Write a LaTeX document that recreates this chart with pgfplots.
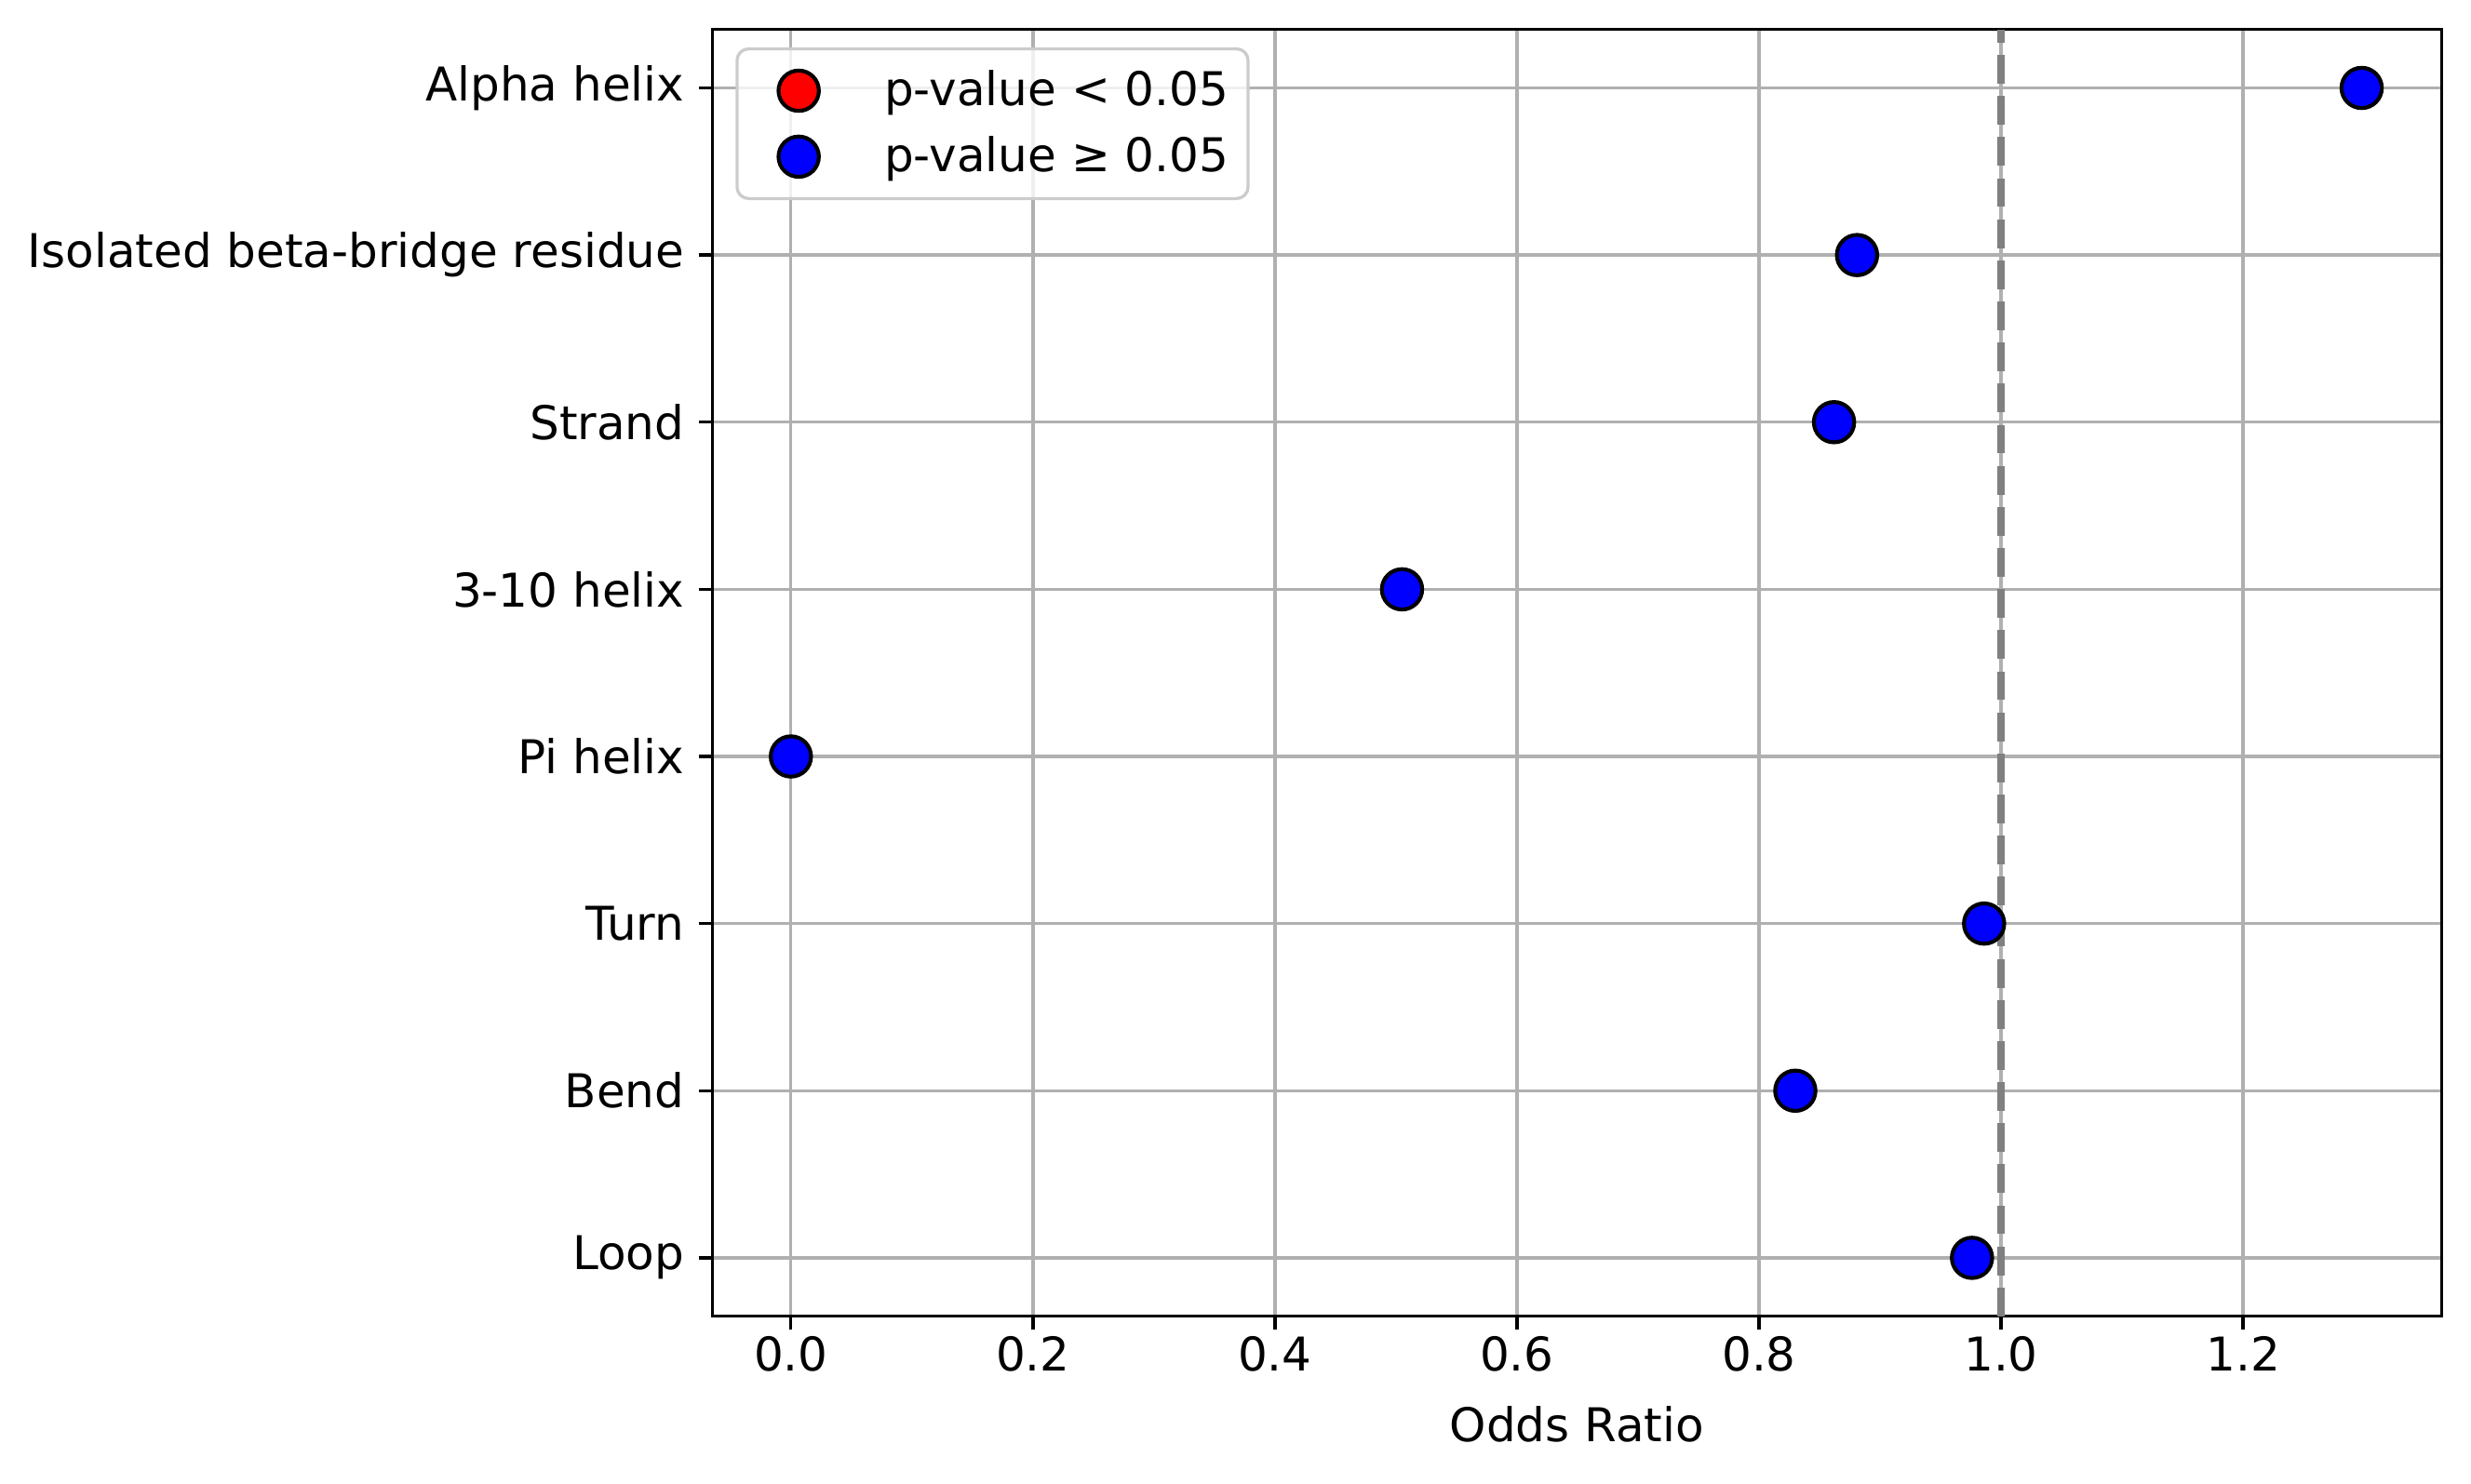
\documentclass[border=0pt]{standalone}
\usepackage{fontspec}
\setmainfont{DejaVu Sans}
\usepackage{pgfplots}
\pgfplotsset{compat=1.18}
\definecolor{gridc}{HTML}{B0B0B0}
\definecolor{legc}{HTML}{CCCCCC}
\begin{document}
\begin{tikzpicture}
\begin{axis}[
  set layers,
  scale only axis,
  width=446pt, height=332pt,
  xmin=-0.065, xmax=1.364,
  ymin=-0.35, ymax=7.35,
  xtick={0,0.2,0.4,0.6,0.8,1.0,1.2},
  ytick={0,1,2,3,4,5,6,7},
  yticklabels={Loop,Bend,Turn,Pi helix,3-10 helix,Strand,Isolated beta-bridge residue,Alpha helix},
  x tick label style={/pgf/number format/fixed, /pgf/number format/fixed zerofill, /pgf/number format/precision=1},
  /pgf/number format/assume math mode=true,
  tick label style={font=\fontsize{12}{14}\selectfont},
  y tick label style={inner sep=0pt, xshift=-3.5pt},
  x tick label style={inner sep=0pt, yshift=-1.6pt},
  tick pos=left,
  tick align=outside,
  major tick length=3.5pt,
  every tick/.style={black, line width=0.8pt},
  axis line style={line width=0.8pt},
  grid=major,
  major grid style={gridc, line width=0.8pt},
  xlabel={Odds Ratio},
  xlabel style={font=\fontsize{12}{14}\selectfont, yshift=-5.3pt},
  legend cell align=left,
  legend image code/.code={%
    \path (0pt,0pt) (24pt,0pt);
    \draw[fill opacity=1, draw opacity=1, mark repeat=2, mark phase=2] plot coordinates {(0pt,0pt) (12pt,0pt) (24pt,0pt)};},
  legend style={
    at={(axis description cs:0,1)}, anchor=north west, xshift=6pt, yshift=-4.6pt,
    draw=legc, line width=0.8pt, rounded corners=3pt,
    fill=white, fill opacity=0.8, text opacity=1, draw opacity=1,
    inner xsep=3.5pt, inner ysep=4pt,
    font=\fontsize{12}{14}\selectfont,
    row sep=3.4pt,
    nodes={inner sep=1.5pt},
    /tikz/every odd column/.append style={column sep=8.2pt},
  },
]
\addlegendimage{only marks, mark=*, mark size=5.2pt, mark options={fill=red, draw=black, line width=1pt}}
\addlegendentry{p-value < 0.05}
\addlegendimage{only marks, mark=*, mark size=5.2pt, mark options={fill=blue, draw=black, line width=1pt}}
\addlegendentry{p-value ≥ 0.05}
\addplot[on layer=axis background, only marks, mark=*, mark size=5.2pt, mark options={fill=blue, draw=black, line width=1pt}, forget plot]
  coordinates {
    (0.976,0) (0.830,1) (0.986,2) (0.000,3) (0.505,4) (0.862,5) (0.881,6) (1.298,7)
  };
\addplot[gray, line width=2pt, dash pattern=on 7.4pt off 3.2pt, forget plot]
  coordinates {(1,-0.35) (1,7.35)};
\end{axis}
\path (current bounding box.south west) ++(-7.2pt,-7.2pt) coordinate (pa);
\path (current bounding box.north east) ++(7.2pt,7.2pt) coordinate (pb);
\path (pa) (pb);
\end{tikzpicture}
\end{document}
